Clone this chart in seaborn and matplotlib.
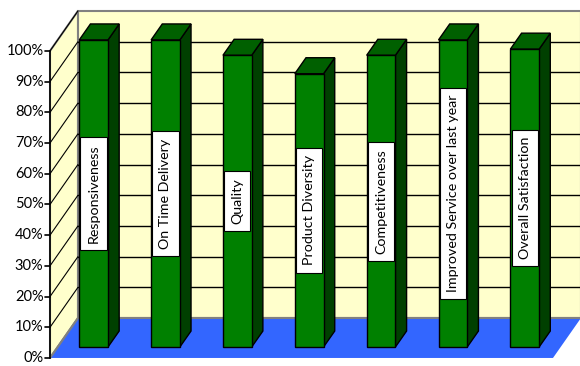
"""
Customer satisfaction survey - 3D style column chart
"""

import numpy as np
import pandas as pd
import matplotlib
matplotlib.use("Agg")
import matplotlib.pyplot as plt
from matplotlib.patches import Polygon
import seaborn as sns

# ─────────────────────────────────────────
# DATA
# ─────────────────────────────────────────
categories = ["Responsiveness", "On Time Delivery", "Quality", "Product Diversity",
              "Competitiveness", "Improved Service over last year", "Overall Satisfaction"]
values = [100, 100, 95, 89, 95, 100, 97]
tick_values = [0, 10, 20, 30, 40, 50, 60, 70, 80, 90, 100]
tick_labels = [f"{v}%" for v in tick_values]

df = pd.DataFrame({"category": categories, "value": values})

# ─────────────────────────────────────────
# STYLE / 3D GEOMETRY
# ─────────────────────────────────────────
WALL = "#FFFFCC"
FLOOR = "#3366FF"
FRONT = "#008000"
SIDE = "#004000"
TOP = "#006000"
EDGE = "#808080"

DX, DY = 0.389, 13.0      # full depth of the box in data units
T_BAR = 0.275             # depth position of the bar front faces
BAR_DEPTH = 0.4           # bar depth as a fraction of the box depth
n = len(categories)
x_lo, x_hi = -0.5, n - 0.5


def P(x, y, t):
    """point at depth t (0=front, 1=back), data coords of the bar plane"""
    return (x + (t - T_BAR) * DX, y + (t - T_BAR) * DY)


sns.set_style("white")
plt.rcParams["font.family"] = ["Lato", "DejaVu Sans"]

fig = plt.figure(figsize=(5.8, 3.66), dpi=100)
ax = fig.add_axes([0, 0, 1, 1])
ax.set_xlim(-1.303, 6.769)
ax.set_ylim(-6.19, 113.0)
ax.axis("off")

# walls & floor
floor = [P(x_lo, 0, 0), P(x_hi, 0, 0), P(x_hi, 0, 1), P(x_lo, 0, 1)]
back = [P(x_lo, 0, 1), P(x_hi, 0, 1), P(x_hi, 100, 1), P(x_lo, 100, 1)]
left = [P(x_lo, 0, 0), P(x_lo, 0, 1), P(x_lo, 100, 1), P(x_lo, 100, 0)]
ax.add_patch(Polygon(back, closed=True, facecolor=WALL, edgecolor=EDGE, lw=1.5, zorder=1))
ax.add_patch(Polygon(left, closed=True, facecolor=WALL, edgecolor=EDGE, lw=1.5, zorder=1))
ax.add_patch(Polygon(floor, closed=True, facecolor=FLOOR, edgecolor="none", zorder=1.5))
# grey edges where the floor meets the walls
for a, b in [(P(x_lo, 0, 0), P(x_lo, 0, 1)), (P(x_lo, 0, 1), P(x_hi, 0, 1))]:
    ax.plot([a[0], b[0]], [a[1], b[1]], color=EDGE, lw=1.5, zorder=1.6)

# gridlines (back wall + left wall diagonals)
for v in tick_values[1:-1]:
    (x0, y0), (x1, y1) = P(x_lo, v, 1), P(x_hi, v, 1)
    ax.plot([x0, x1], [y0, y1], color="black", lw=1, zorder=1.2)
for v in tick_values[1:]:
    (x0, y0), (x1, y1) = P(x_lo, v, 0), P(x_lo, v, 1)
    ax.plot([x0, x1], [y0, y1], color="black", lw=0.8, zorder=1.2)

# front value axis with ticks
(ax0, ay0), (ax1, ay1) = P(x_lo, 0, 0), P(x_lo, 100, 0)
ax.plot([ax0, ax1], [ay0, ay1], color="black", lw=1.2, zorder=3)
for v, lab in zip(tick_values, tick_labels):
    tx, ty = P(x_lo, v, 0)
    ax.plot([tx - 0.07, tx], [ty, ty], color="black", lw=1.2, zorder=3)
    ax.text(tx - 0.09, ty, lab, ha="right", va="center", fontsize=10.5, color="black")

# front faces of the bars
sns.barplot(data=df, x="category", y="value", width=0.4, color=FRONT,
            saturation=1, edgecolor="black", linewidth=1, ax=ax, zorder=4)
ax.set_xlim(-1.303, 6.769)
ax.set_ylim(-6.19, 113.0)

bdx, bdy = BAR_DEPTH * DX, BAR_DEPTH * DY
for bar in ax.patches[3:]:
    if not hasattr(bar, "get_width") or bar.get_height() <= 0:
        continue
    x0, w, h = bar.get_x(), bar.get_width(), bar.get_height()
    x1 = x0 + w
    side = [(x1, 0), (x1, h), (x1 + bdx, h + bdy), (x1 + bdx, bdy)]
    top = [(x0, h), (x1, h), (x1 + bdx, h + bdy), (x0 + bdx, h + bdy)]
    ax.add_patch(Polygon(side, closed=True, facecolor=SIDE, edgecolor="black", lw=1, zorder=3.5))
    ax.add_patch(Polygon(top, closed=True, facecolor=TOP, edgecolor="black", lw=1, zorder=3.5))

# category labels in the middle of each bar
for i, (cat, val) in enumerate(zip(categories, values)):
    ax.text(i, val / 2, cat, rotation=90, ha="center", va="center", fontsize=10.3,
            color="black", zorder=6,
            bbox=dict(boxstyle="square,pad=0.5", facecolor="white", edgecolor="black", lw=0.8))

fig.savefig("out.png", dpi=100)
